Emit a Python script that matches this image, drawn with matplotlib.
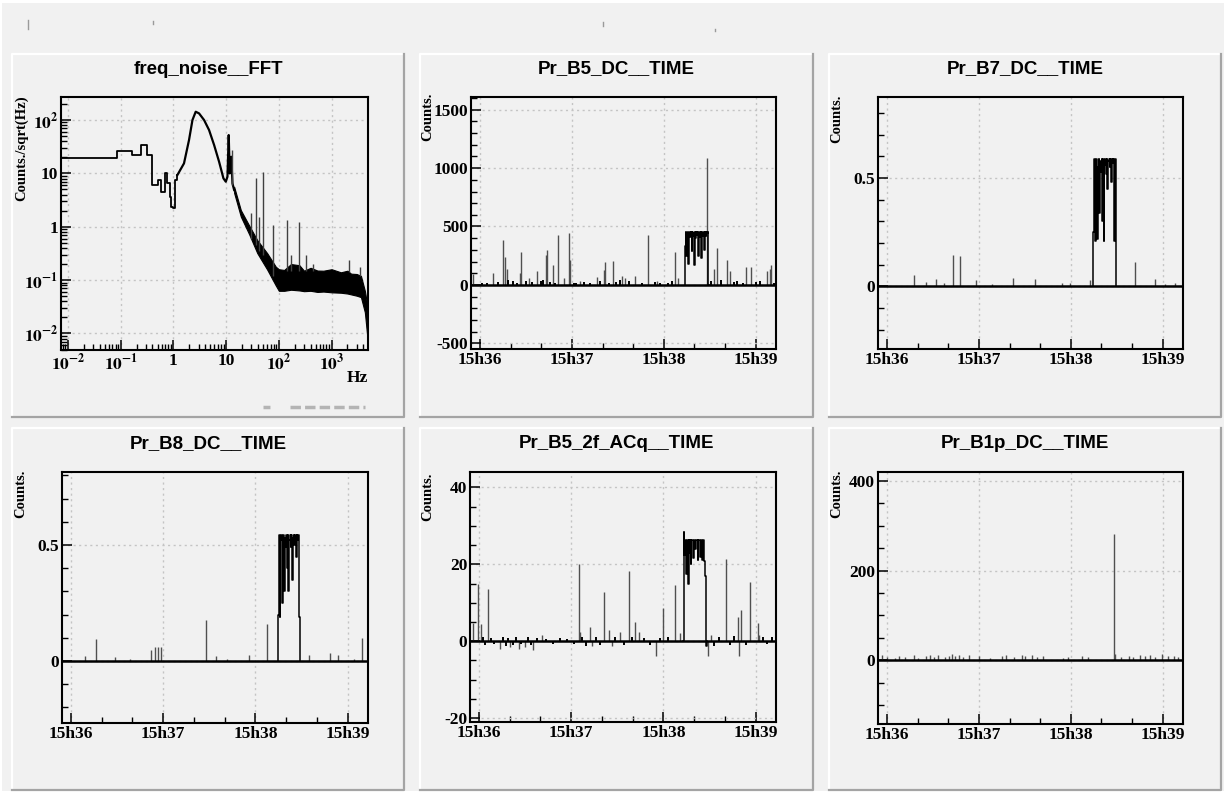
import matplotlib
matplotlib.use("Agg")
import matplotlib.pyplot as plt
from matplotlib.patches import Rectangle
from matplotlib.ticker import FixedLocator, MultipleLocator, LogLocator, NullFormatter, FormatStrFormatter

W, H = 1227, 794
BG = "#f1f1f1"
SERIF = "Liberation Serif"
SANS = "Liberation Sans"

plt.rcParams["mathtext.fontset"] = "stix"
plt.rcParams["mathtext.default"] = "bf"

# ---------------- data ----------------
time_ticks = [0, 1, 2, 3]          # minutes after 15h36
time_labels = ["15h36", "15h37", "15h38", "15h39"]

# FFT spectrum (Hz, counts/sqrt(Hz))
fft_step_freq = [0.0074, 0.0865, 0.167, 0.240, 0.321, 0.399, 0.511, 0.574, 0.684, 0.769, 0.851, 0.916, 1.0, 1.076, 1.19]
fft_step_amp = [19.1, 26.2, 22.1, 34.0, 22.1, 6.04, 7.5, 4.53, 10.0, 6.49, 3.65, 2.37, 2.21, 7.5, 9.3]
fft_curve_freq = [1.19, 1.59, 1.98, 2.30, 2.65, 3.07, 3.82, 4.75, 5.92, 7.36, 8.90, 9.86, 10.6, 11.2, 11.7, 12.5, 13.2, 14.2]
fft_curve_amp = [9.3, 15.4, 42.2, 100, 143, 133, 100, 64.9, 34, 16.5, 8.06, 6.98, 8.66, 52.3, 10, 20.5, 6.49, 4.87]
fft_band_freq = [14.2, 19, 27.4, 39, 60, 87.6, 100, 126, 170, 245, 300, 400, 540, 700, 1000, 1500, 2000, 2340, 3000, 3600, 4270, 4800, 4950]
fft_band_lo = [4.3, 1.55, 0.72, 0.32, 0.158, 0.079, 0.063, 0.063, 0.066, 0.064, 0.062, 0.063, 0.060, 0.061, 0.059, 0.058, 0.056, 0.054, 0.051, 0.048, 0.025, 0.0079, 0.005]
fft_band_hi = [5.6, 2.05, 1.05, 0.56, 0.32, 0.178, 0.16, 0.155, 0.20, 0.19, 0.15, 0.17, 0.151, 0.15, 0.16, 0.14, 0.15, 0.132, 0.13, 0.12, 0.063, 0.032, 0.016]
fft_spike_freq = [13.2, 30, 36.6, 42, 49, 79, 142, 170, 236, 326, 436, 2160, 3500]
fft_spike_base = [6, 0.6, 0.45, 0.35, 0.3, 0.12, 0.15, 0.15, 0.15, 0.15, 0.15, 0.14, 0.12]
fft_spike_top = [27, 1.8, 8.06, 1.5, 10.7, 1.07, 1.33, 0.3, 1.24, 0.29, 0.2, 0.237, 0.178]

# Pr_B5_DC
b5dc_spike_t = [-0.07, 0.14, 0.25, 0.27, 0.29, 0.44, 0.45, 0.53, 0.62, 0.72, 0.73, 0.79, 0.85, 0.91, 0.97, 0.98, 1.09, 1.27, 1.35, 1.36,
                1.45, 1.55, 1.58, 1.69, 1.83, 1.93, 2.12, 2.15, 2.47, 2.55, 2.58, 2.69, 2.72, 2.89, 2.95, 3.12, 3.15, 3.17]
b5dc_spike_h = [90, 100, 380, 240, 140, 100, 285, 60, 115, 255, 300, 170, 430, 60, 440, 215, 30, 70, 130, 200,
                205, 75, 60, 80, 430, 35, 285, 60, 1085, 140, 315, 215, 115, 155, 155, 115, 140, 170]
b5dc_noise_t = [0.02, 0.08, 0.20, 0.31, 0.36, 0.40, 0.50, 0.57, 0.66, 0.69, 0.76, 0.82, 1.02, 1.05, 1.13, 1.20, 1.31,
                1.40, 1.48, 1.52, 1.62, 1.76, 1.90, 1.96, 2.05, 2.09, 2.51, 2.62, 2.76, 2.80, 2.86, 3.00, 3.05, 3.20]
b5dc_noise_h = [20, 15, 25, 40, 30, 20, 35, 25, 30, 40, 25, 20, 20, 15, 25, 20, 30,
                20, 25, 40, 30, 20, 25, 15, 20, 30, 35, 40, 25, 30, 20, 25, 30, 20]
b5dc_plat_t = [2.228, 2.235, 2.242, 2.249, 2.256, 2.263, 2.270, 2.277, 2.284, 2.291, 2.298, 2.305, 2.312, 2.319, 2.326, 2.333, 2.340, 2.347, 2.354,
               2.361, 2.368, 2.375, 2.382, 2.389, 2.396, 2.403, 2.410, 2.417, 2.424, 2.431, 2.438, 2.445, 2.452, 2.459, 2.466, 2.473, 2.480, 2.487]
b5dc_plat_y = [0, 330, 455, 250, 440, 455, 180, 430, 455, 410, 450, 290, 455, 420, 445, 170, 455, 400, 450,
               430, 455, 250, 440, 455, 410, 450, 230, 455, 420, 445, 455, 300, 450, 415, 455, 440, 455, 0]

# Pr_B7_DC
b7_spike_t = [0.29, 0.42, 0.53, 0.62, 0.72, 0.80, 0.97, 1.14, 1.37, 1.61, 1.90, 1.99, 2.21, 2.70, 2.92, 3.02, 3.13]
b7_spike_h = [0.05, 0.02, 0.035, 0.015, 0.145, 0.14, 0.03, 0.01, 0.04, 0.035, 0.015, 0.015, 0.03, 0.11, 0.035, 0.012, 0.017]
b7_plat_t = [2.242, 2.250, 2.258, 2.266, 2.274, 2.282, 2.290, 2.298, 2.306, 2.314, 2.322, 2.330, 2.338, 2.346, 2.354, 2.362,
             2.370, 2.378, 2.386, 2.394, 2.402, 2.410, 2.418, 2.426, 2.434, 2.442, 2.450, 2.458, 2.466, 2.474, 2.482, 2.490]
b7_plat_y = [0, 0.25, 0.59, 0.21, 0.57, 0.59, 0.22, 0.55, 0.59, 0.34, 0.58, 0.53, 0.59, 0.30, 0.59, 0.21,
             0.56, 0.59, 0.52, 0.59, 0.45, 0.58, 0.59, 0.55, 0.59, 0.48, 0.59, 0.57, 0.59, 0.21, 0.59, 0]

# Pr_B8_DC
b8_spike_t = [0.15, 0.27, 0.48, 0.64, 0.87, 0.91, 0.94, 0.98, 1.46, 1.57, 1.69, 1.93, 2.12, 2.58, 2.81, 2.89, 3.07, 3.15]
b8_spike_h = [0.02, 0.097, 0.017, 0.007, 0.046, 0.06, 0.06, 0.06, 0.176, 0.02, 0.007, 0.025, 0.158, 0.027, 0.035, 0.027, 0.01, 0.1]
b8_plat_t = [2.242, 2.250, 2.258, 2.266, 2.274, 2.282, 2.290, 2.298, 2.306, 2.314, 2.322, 2.330, 2.338, 2.346, 2.354, 2.362,
             2.370, 2.378, 2.386, 2.394, 2.402, 2.410, 2.418, 2.426, 2.434, 2.442, 2.450, 2.458, 2.466, 2.474, 2.482]
b8_plat_y = [0, 0.2, 0.543, 0.19, 0.52, 0.543, 0.25, 0.50, 0.543, 0.30, 0.53, 0.49, 0.543, 0.40, 0.543, 0.30,
             0.52, 0.543, 0.49, 0.543, 0.35, 0.53, 0.543, 0.50, 0.543, 0.45, 0.543, 0.52, 0.543, 0.19, 0]

# Pr_B5_2f_ACq
b52f_spike_t = [-0.06, -0.01, 0.02, 0.10, 0.23, 0.34, 0.43, 0.50, 0.59, 0.68, 1.08, 1.09, 1.20, 1.23, 1.36, 1.41, 1.44,
                1.53, 1.63, 1.69, 1.74, 1.92, 2.00, 2.13, 2.18, 2.48, 2.52, 2.68, 2.81, 2.82, 2.84, 2.94, 3.03, 3.04]
b52f_spike_h = [4.7, 14.9, 4.5, 13.6, -2.0, -1.5, -2.0, -1.5, -2.3, 1.7, 20.2, 2.5, 3.8, -1.3, 12.8, 3.0, -1.3,
                2.5, 18.3, 5.1, 2.5, -3.8, 8.7, 14.5, 2.1, -3.8, 1.7, 21.3, 6.4, -3.8, 8.1, 15.3, 4.7, 1.7]
b52f_noise_t = [0.04, 0.07, 0.13, 0.16, 0.26, 0.29, 0.31, 0.37, 0.40, 0.46, 0.53, 0.56, 0.63, 0.73, 0.80, 0.88, 0.95, 1.03, 1.12,
                1.16, 1.27, 1.31, 1.48, 1.57, 1.66, 1.79, 1.85, 1.96, 2.05, 2.55, 2.60, 2.72, 2.77, 2.90, 3.08, 3.12, 3.18]
b52f_noise_h = [1.2, -1.0, 0.8, -0.8, 1.0, -1.2, 0.9, -1.0, 1.1, -0.7, 1.0, -1.1, 0.8, 0.7, -0.6, 0.9, 0.6, -0.8, 1.0,
                -1.2, 1.1, -0.9, 1.2, -1.0, 1.0, 0.8, -1.0, 0.9, 1.1, -1.2, 1.0, -0.9, 1.3, -1.1, 1.0, -0.8, 1.2]
b52f_plat_t = [2.215, 2.222, 2.229, 2.236, 2.243, 2.250, 2.257, 2.264, 2.271, 2.278, 2.285, 2.292, 2.299, 2.306, 2.313, 2.320, 2.327, 2.334, 2.341,
               2.348, 2.355, 2.362, 2.369, 2.376, 2.383, 2.390, 2.397, 2.404, 2.411, 2.418, 2.425, 2.432, 2.439, 2.446, 2.453, 2.460, 2.467, 2.474]
b52f_plat_y = [0, 28.3, 22.5, 26.4, 24.0, 17.4, 26.4, 26.4, 14.9, 26.4, 23.0, 26.4, 20.0, 26.4, 26.4, 25.0, 21.7, 26.4, 26.4,
               24.0, 26.4, 26.4, 26.4, 21.0, 26.4, 26.4, 26.4, 22.0, 26.4, 26.4, 21.0, 26.4, 26.4, 20.9, 17.0, 11.0, -1.3, 0]

# Pr_B1p_DC
b1p_spike_t = [-0.05, 0.00, 0.09, 0.13, 0.20, 0.29, 0.34, 0.42, 0.47, 0.51, 0.56, 0.63, 0.67, 0.71, 0.74, 0.78, 0.83, 0.89, 1.00, 1.12,
               1.25, 1.29, 1.38, 1.47, 1.50, 1.58, 1.63, 1.70, 1.92, 1.97, 2.12, 2.19, 2.47, 2.48, 2.55, 2.63, 2.68, 2.75, 2.81, 2.86,
               2.92, 2.99, 3.06, 3.12, 3.17]
b1p_spike_h = [12, 8, 6, 10, 7, 12, 6, 9, 11, 8, 12, 7, 10, 13, 9, 11, 8, 12, 10, 6,
               9, 12, 8, 11, 10, 12, 7, 9, 6, 8, 10, 7, 282, 15, 8, 10, 7, 12, 9, 11,
               8, 13, 10, 9, 7]


def px_rect(x0, y0, x1, y1):
    return [x0 / W, 1 - y1 / H, (x1 - x0) / W, (y1 - y0) / H]


fig = plt.figure(figsize=(W / 100, H / 100), dpi=100, facecolor="white")
bg = fig.add_axes([0, 0, 1, 1])
bg.set_xlim(0, W)
bg.set_ylim(H, 0)
bg.axis("off")
bg.add_patch(Rectangle((2, 3), W - 5, H - 6, facecolor=BG, edgecolor="none"))

pads = [(12, 54, 404, 417), (420, 54, 813, 417), (829, 54, 1221, 417),
        (12, 428, 404, 790), (420, 428, 813, 790), (829, 428, 1221, 790)]
for x0, y0, x1, y1 in pads:
    bg.plot([x0, x0, x1], [y1, y0, y0], color="white", lw=1.6)
    bg.plot([x0, x1, x1], [y1, y1, y0], color="#a4a4a4", lw=1.6)

# small stray marks of the original canvas
for x, ya, yb in [(28, 20, 29), (153, 21, 24), (603, 22, 26), (715, 29, 31)]:
    bg.plot([x, x], [ya, yb], color="#9a9a9a", lw=1)
bg.plot([263, 282], [407, 407], color="#b4b4b4", lw=2.5, dashes=(2, 4))
bg.plot([290, 365], [407, 407], color="#b4b4b4", lw=2.5, dashes=(3, 1.2))


def style_axes(ax):
    ax.set_facecolor(BG)
    for s in ax.spines.values():
        s.set_linewidth(1.5)
        s.set_color("black")
    ax.tick_params(which="both", direction="in", top=False, right=False, colors="black")
    ax.tick_params(which="major", length=7, width=1.1, pad=2, labelsize=12.5)
    ax.tick_params(which="minor", length=4, width=1)
    for lab in ax.get_xticklabels() + ax.get_yticklabels():
        lab.set_fontfamily(SERIF)
        lab.set_fontweight("bold")
    ax.grid(which="major", color="#c4c4c4", linestyle=(0, (1.5, 2.5)), linewidth=1)
    ax.set_axisbelow(True)


def title(pad, text, y):
    x0, _, x1, _ = pad
    bg.text((x0 + x1) / 2, y, text, ha="center", va="center", fontsize=13.5,
            fontfamily=SANS, fontweight="bold")


def ylabel(x, y, text):
    bg.text(x, y, text, rotation=90, ha="center", va="top", fontsize=10.5,
            fontfamily=SERIF, fontweight="bold")


# ---------------- FFT panel ----------------
ax = fig.add_axes(px_rect(61, 97, 368, 350))
ax.set_xscale("log")
ax.set_yscale("log")
ax.step(fft_step_freq, fft_step_amp, where="post", color="black", lw=1.3)
ax.plot(fft_curve_freq, fft_curve_amp, color="black", lw=1.6)
ax.fill_between(fft_band_freq, fft_band_lo, fft_band_hi, color="black", lw=0.8, edgecolor="black")
ax.vlines(fft_spike_freq, fft_spike_base, fft_spike_top, color="#404040", lw=1)
ax.set_xlim(0.0074, 4900)
ax.set_ylim(0.0049, 270)
ax.xaxis.set_major_locator(FixedLocator([0.01, 0.1, 1, 10, 100, 1000]))
ax.set_xticklabels([r"$10^{-2}$", r"$10^{-1}$", "1", "10", r"$10^{2}$", r"$10^{3}$"])
ax.yaxis.set_major_locator(FixedLocator([0.01, 0.1, 1, 10, 100]))
ax.set_yticklabels([r"$10^{-2}$", r"$10^{-1}$", "1", "10", r"$10^{2}$"])
ax.xaxis.set_minor_locator(LogLocator(base=10, subs=range(2, 10), numticks=20))
ax.yaxis.set_minor_locator(LogLocator(base=10, subs=range(2, 10), numticks=20))
ax.xaxis.set_minor_formatter(NullFormatter())
ax.yaxis.set_minor_formatter(NullFormatter())
style_axes(ax)
title(pads[0], "freq_noise__FFT", 69)
ylabel(22, 95, "Counts./sqrt(Hz)")
bg.text(357, 378, "Hz", ha="center", va="center", fontsize=12.5, fontfamily=SERIF, fontweight="bold")


# ---------------- time panels ----------------
def time_panel(rect, pad, name, ylim, yticks, yminor, spike_t, spike_h, plat_t=None, plat_y=None,
               noise_t=None, noise_h=None, title_y=69, lab_xy=(0, 0)):
    ax = fig.add_axes(px_rect(*rect))
    ax.axhline(0, color="black", lw=1.8, zorder=3)
    ax.vlines(spike_t, 0, spike_h, color="#505050", lw=1, zorder=2)
    if noise_t is not None:
        ax.vlines(noise_t, 0, noise_h, color="black", lw=1.4, zorder=2)
    if plat_t is not None:
        ax.plot(plat_t, plat_y, drawstyle="steps-mid", color="black", lw=1.1, zorder=3)
    ax.set_xlim(-0.097, 3.22)
    ax.set_ylim(*ylim)
    ax.xaxis.set_major_locator(FixedLocator(time_ticks))
    ax.set_xticklabels(time_labels)
    ax.xaxis.set_minor_locator(MultipleLocator(1 / 3))
    ax.yaxis.set_major_locator(FixedLocator(yticks))
    ax.yaxis.set_major_formatter(FormatStrFormatter("%g"))
    ax.yaxis.set_minor_locator(MultipleLocator(yminor))
    style_axes(ax)
    title(pad, name, title_y)
    ylabel(lab_xy[0], lab_xy[1], "Counts.")
    return ax


time_panel((471, 97, 776, 349), pads[1], "Pr_B5_DC__TIME", (-550, 1610), [-500, 0, 500, 1000, 1500], 100,
           b5dc_spike_t, b5dc_spike_h, b5dc_plat_t, b5dc_plat_y, b5dc_noise_t, b5dc_noise_h,
           title_y=69, lab_xy=(428, 93))
time_panel((878, 97, 1183, 349), pads[2], "Pr_B7_DC__TIME", (-0.29, 0.875), [0, 0.5], 0.1,
           b7_spike_t, b7_spike_h, b7_plat_t, b7_plat_y, title_y=69, lab_xy=(837, 95))
time_panel((62, 472, 368, 723), pads[3], "Pr_B8_DC__TIME", (-0.267, 0.815), [0, 0.5], 0.1,
           b8_spike_t, b8_spike_h, b8_plat_t, b8_plat_y, title_y=444, lab_xy=(21, 470))
time_panel((470, 472, 776, 722), pads[4], "Pr_B5_2f_ACq__TIME", (-21, 44), [-20, 0, 20, 40], 5,
           b52f_spike_t, b52f_spike_h, b52f_plat_t, b52f_plat_y, b52f_noise_t, b52f_noise_h,
           title_y=444, lab_xy=(428, 473))
time_panel((878, 472, 1183, 724), pads[5], "Pr_B1p_DC__TIME", (-142, 420), [0, 200, 400], 50,
           b1p_spike_t, b1p_spike_h, title_y=444, lab_xy=(837, 470))

fig.savefig("out.png", dpi=100, facecolor="white")
